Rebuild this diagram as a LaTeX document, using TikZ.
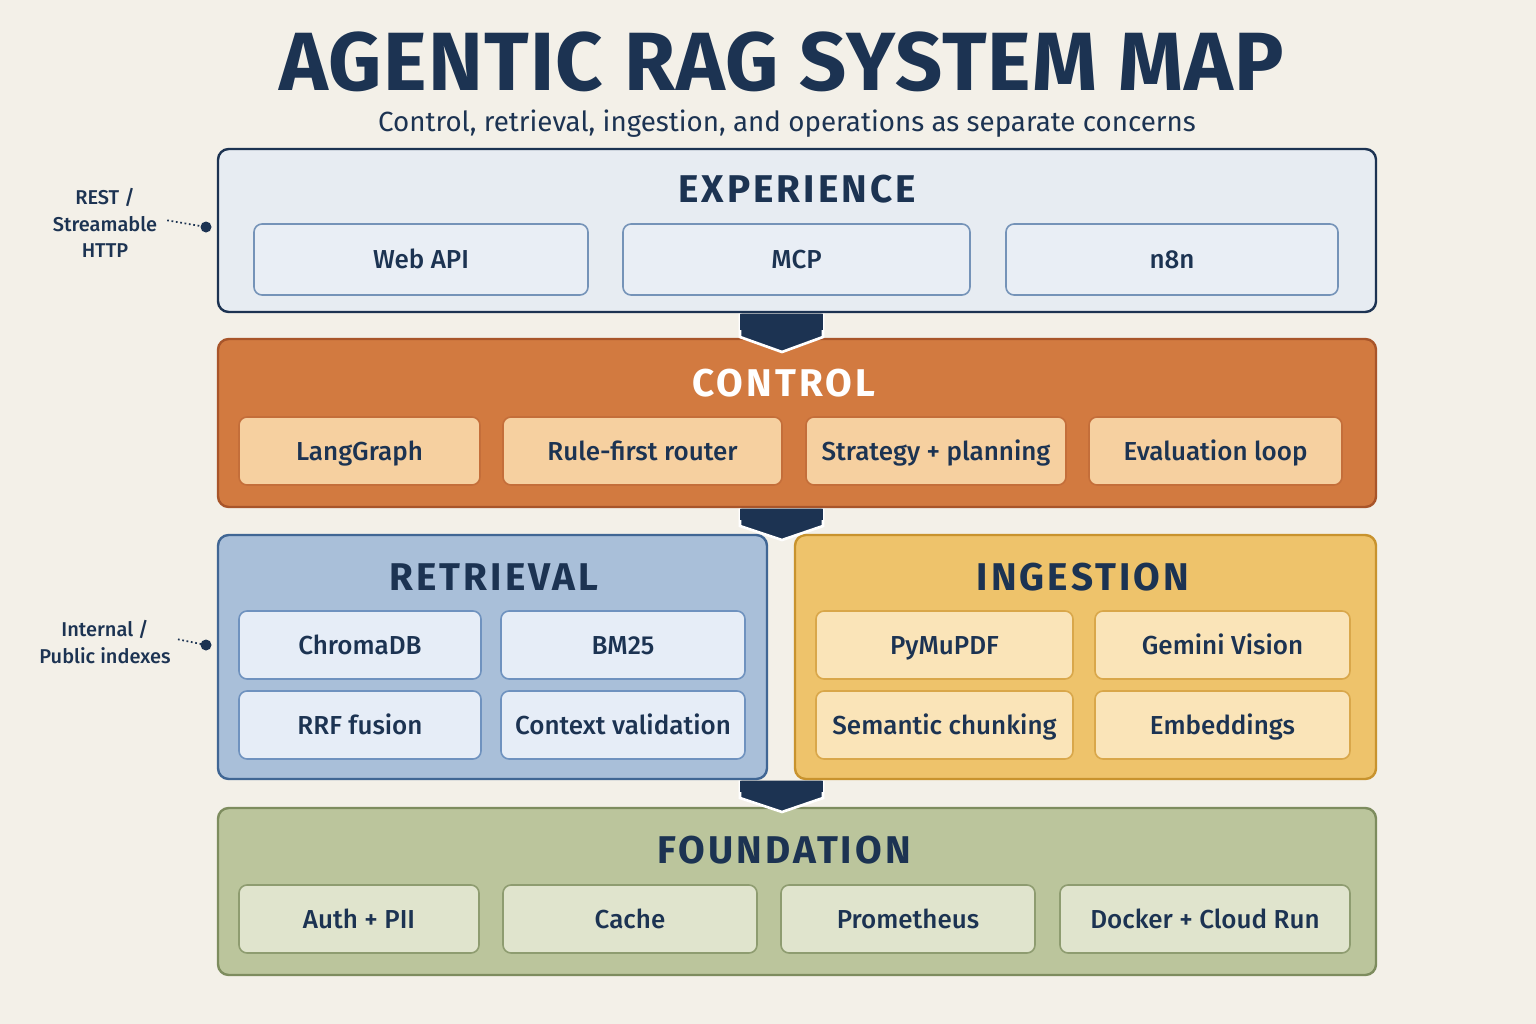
\documentclass[tikz,border=0pt]{standalone}
\usepackage{fontspec}
\setmainfont{Fira Sans}
\newfontfamily\medfont{Fira Sans Medium}
\definecolor{bg}{HTML}{F3F0E8}
\definecolor{navy}{HTML}{1C3352}
\definecolor{expfill}{HTML}{E7ECF2}
\definecolor{expnode}{HTML}{E9EEF5}
\definecolor{expbd}{HTML}{7593B8}
\definecolor{ctlfill}{HTML}{D27A40}
\definecolor{ctlbd}{HTML}{A8552A}
\definecolor{ctlnode}{HTML}{F6D0A0}
\definecolor{ctlnbd}{HTML}{C46E3A}
\definecolor{retfill}{HTML}{A9BFD9}
\definecolor{retbd}{HTML}{406694}
\definecolor{retnode}{HTML}{E6EDF7}
\definecolor{retnbd}{HTML}{6F92BF}
\definecolor{ingfill}{HTML}{EEC36B}
\definecolor{ingbd}{HTML}{C8932E}
\definecolor{ingnode}{HTML}{FAE4B8}
\definecolor{ingnbd}{HTML}{D9A74A}
\definecolor{fndfill}{HTML}{BBC59C}
\definecolor{fndbd}{HTML}{7D8C5E}
\definecolor{fndnode}{HTML}{E0E4CD}
\definecolor{fndnbd}{HTML}{8E9C70}
\begin{document}
\begin{tikzpicture}[x=0.75pt,y=-0.75pt,
 layer/.style={draw=#1,line width=1.8pt,rounded corners=8pt},
 box/.style={line width=1.2pt,rounded corners=6pt},
 item/.style={font=\medfont\fontsize{19.5}{22}\selectfont,text=navy,anchor=base},
 ttl/.style={font=\fontsize{29}{32}\selectfont\bfseries\addfontfeatures{LetterSpace=8},text=navy},
 side/.style={font=\medfont\fontsize{15}{20}\selectfont,text=navy,align=center},
 chev/.style={fill=navy,draw=white,line width=2pt}]
\fill[bg] (0,0) rectangle (1536,1024);
\useasboundingbox (0,0) rectangle (1536,1024);
\node[font=\fontsize{62}{66}\selectfont\bfseries\addfontfeatures{LetterSpace=1.5},text=navy] (title) at (782,62) {AGENTIC RAG SYSTEM MAP};
\node[font=\fontsize{20.8}{24}\selectfont,text=navy] (sub) at (787,124) {Control, retrieval, ingestion, and operations as separate concerns};
% Experience
\draw[layer=navy,fill=expfill] (218,149) rectangle (1376,312);
\node[ttl] (exp) at (797,189) {EXPERIENCE};
\foreach \n/\a/\b/\t in {web/254/588/Web API,mcp/623/970/MCP,n8n/1006/1338/n8n}{
 \draw[box,draw=expbd,fill=expnode] (\a,224) rectangle (\b,295);
 \node[item] (\n) at ({(\a+\b)/2},268) {\t};}
% Control
\draw[layer=ctlbd,fill=ctlfill] (218,339) rectangle (1376,507);
\node[ttl,text=white] (ctl) at (784,383) {CONTROL};
\foreach \n/\a/\b/\t in {lg/239/480/LangGraph,rf/503/782/Rule-first router,sp/806/1066/Strategy + planning,ev/1089/1342/Evaluation loop}{
 \draw[box,draw=ctlnbd,fill=ctlnode] (\a,417) rectangle (\b,485);
 \node[item] (\n) at ({(\a+\b)/2},460) {\t};}
% Retrieval
\draw[layer=retbd,fill=retfill] (218,535) rectangle (767,779);
\node[ttl] (ret) at (494,577) {RETRIEVAL};
\foreach \n/\a/\b/\y/\t in {cdb/239/481/611/ChromaDB,bm/501/745/611/BM25,rrf/239/481/691/RRF fusion,cv/501/745/691/Context validation}{
 \draw[box,draw=retnbd,fill=retnode] (\a,\y) rectangle (\b,\y+68);
 \node[item] (\n) at ({(\a+\b)/2},\y+43) {\t};}
% Ingestion
\draw[layer=ingbd,fill=ingfill] (795,535) rectangle (1376,779);
\node[ttl] (ing) at (1083,577) {INGESTION};
\foreach \n/\a/\b/\y/\t in {pdf/816/1073/611/PyMuPDF,gv/1095/1350/611/Gemini Vision,sc/816/1073/691/Semantic chunking,emb/1095/1350/691/Embeddings}{
 \draw[box,draw=ingnbd,fill=ingnode] (\a,\y) rectangle (\b,\y+68);
 \node[item] (\n) at ({(\a+\b)/2},\y+43) {\t};}
% Foundation
\draw[layer=fndbd,fill=fndfill] (218,808) rectangle (1376,975);
\node[ttl] (fnd) at (784,850) {FOUNDATION};
\foreach \n/\a/\b/\t in {auth/239/479/Auth + PII,cache/503/757/Cache,prom/781/1035/Prometheus,dock/1060/1350/Docker + Cloud Run}{
 \draw[box,draw=fndnbd,fill=fndnode] (\a,885) rectangle (\b,953);
 \node[item] (\n) at ({(\a+\b)/2},928) {\t};}
% chevrons
\draw[chev] (740,313.5) -- (740,337) -- (782,352) -- (823,337) -- (823,313.5);
\fill[navy] (740,313.5) rectangle (823,330);
\draw[chev] (740,508.5) -- (740,526) -- (782,540) -- (823,526) -- (823,508.5);
\fill[navy] (740,508.5) rectangle (823,520);
\draw[chev] (740,780.5) -- (740,798) -- (782,812) -- (823,798) -- (823,780.5);
\fill[navy] (740,780.5) rectangle (823,792);
% side labels
\node[side] (rest) at (105,223) {REST /\\Streamable\\HTTP};
\coordinate (d1) at (206,227);
\draw[navy,line width=1.3pt,dotted] (rest.east) ++(4pt,2pt) -- (d1);
\fill[navy] (d1) circle (5.5);
\node[side] (intl) at (105,642) {Internal /\\Public indexes};
\coordinate (d2) at (206,645);
\draw[navy,line width=1.3pt,dotted] (intl.east) ++(2pt,2pt) -- (d2);
\fill[navy] (d2) circle (5.5);
\end{tikzpicture}
\end{document}
